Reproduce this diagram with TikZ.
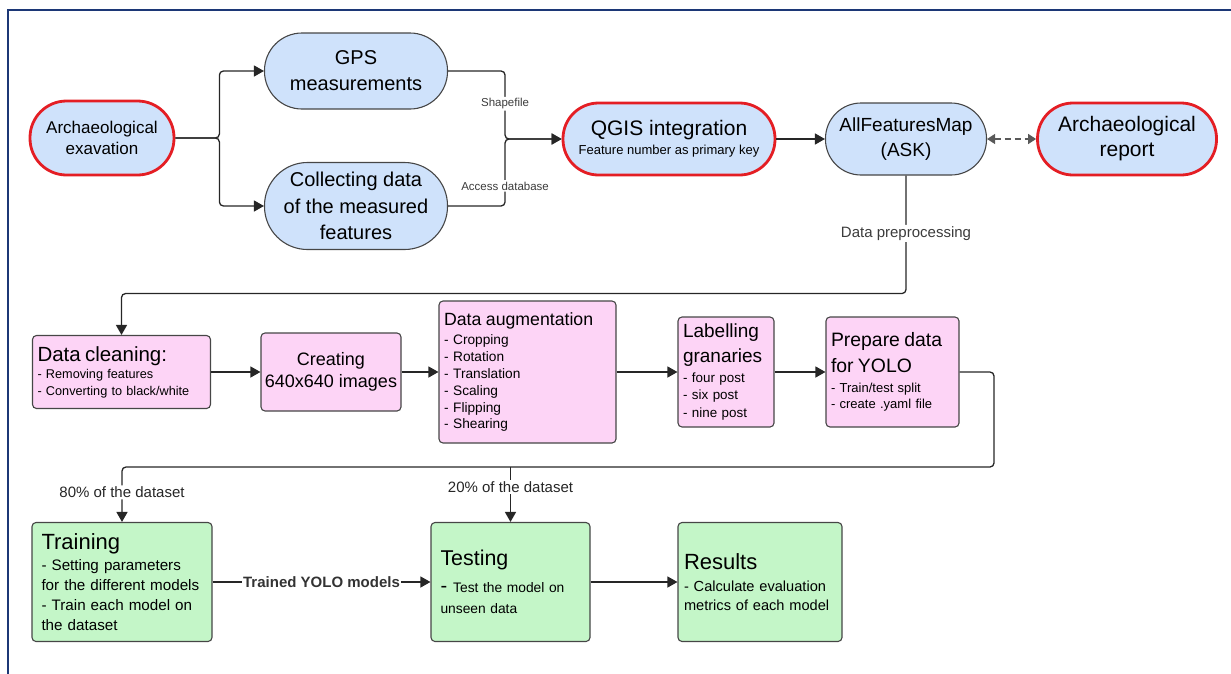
\documentclass[tikz,border=0pt]{standalone}
\usepackage{fontspec}
\setmainfont{Liberation Sans}
\usetikzlibrary{arrows.meta}

\definecolor{bluefill}{RGB}{207,226,251}
\definecolor{pinkfill}{RGB}{253,212,246}
\definecolor{greenfill}{RGB}{196,246,200}
\definecolor{redline}{RGB}{228,30,36}
\definecolor{boxline}{RGB}{70,70,70}
\definecolor{framecol}{RGB}{28,55,118}
\definecolor{lbltext}{RGB}{60,60,60}

\newcommand{\fsz}[2]{\fontsize{#1}{#2}\selectfont}
\newcommand{\boxtitle}[2]{{\fontsize{#1}{#1}\selectfont #2}}
\lineskiplimit=-100pt

\tikzset{
    stad/.style 2 args={draw=boxline, line width=1.1, fill=bluefill, align=center,
        minimum width=#1, minimum height=#2, rounded corners=#2/2-0.5, inner sep=2},
    redstad/.style 2 args={stad={#1}{#2}, draw=redline, line width=2.8},
    pinkbox/.style={draw=boxline, line width=1.1, fill=pinkfill, rounded corners=4,
        align=left, inner xsep=5, inner ysep=2},
    greenbox/.style={pinkbox, fill=greenfill, inner xsep=9.5},
    arr/.style={draw=black!85, line width=1.3, -{Triangle[length=10pt,width=11pt]}},
    dasharr/.style={draw=black!65, line width=1.3, dash pattern=on 6pt off 4pt,
        {Triangle[length=8pt,width=10pt]}-{Triangle[length=8pt,width=10pt]}},
    lbl/.style={fill=white, inner sep=1.5, text=lbltext}
}

\begin{document}
\begin{tikzpicture}[x=1pt,y=-1pt]
    \useasboundingbox (0,0) rectangle (1231,673);
    \draw[framecol, line width=2.2] (8,680) -- (8,10) -- (1240,10);

    % top row
    \node[redstad={144}{74}, font=\fsz{17}{21}] (exc) at (102,138) {Archaeological\\exavation};
    \node[stad={183}{76}, font=\fsz{20}{26}] (gps) at (356,71) {GPS\\measurements};
    \node[stad={183}{87}, font=\fsz{20}{26.5}] (coll) at (356,206) {Collecting data\\of the measured\\features};
    \node[redstad={212}{72}, font=\fsz{13}{19}] (qgis) at (669,139)
        {\boxtitle{21}{QGIS integration}\\Feature number as primary key};
    \node[stad={161}{72}, font=\fsz{19}{25}] (ask) at (906,139) {AllFeaturesMap\\(ASK)};
    \node[redstad={179}{72}, font=\fsz{21}{25}] (report) at (1127,139) {Archaeological\\report};

    % preprocessing row
    \node[pinkbox, text width=168, minimum height=73, font=\fsz{12.7}{17}] (clean) at (121.5,372)
        {\boxtitle{20.5}{Data cleaning:}\\- Removing features\\- Converting to black/white};
    \node[pinkbox, align=center, inner xsep=2, minimum width=140, minimum height=78,
        font=\fsz{18}{21.7}] (create) at (331,372) {Creating\\640x640 images};
    \node[pinkbox, text width=167, minimum height=142, font=\fsz{13.7}{16.9}] (augm) at (527.5,372)
        {\boxtitle{17.7}{Data augmentation}\\[2.5pt]- Cropping\\- Rotation\\- Translation\\- Scaling\\- Flipping\\- Shearing};
    \node[pinkbox, text width=86, minimum height=110, font=\fsz{13.4}{17.3}] (label) at (726,372)
        {\boxtitle{19}{Labelling}\\[6pt]\boxtitle{19}{granaries}\\[2.7pt]- four post\\- six post\\- nine post};
    \node[pinkbox, text width=123, minimum height=110, font=\fsz{13}{16.7}] (prep) at (892.5,372)
        {\boxtitle{19.4}{Prepare data}\\[6.6pt]\boxtitle{19.4}{for YOLO}\\[3.3pt]- Train/test split\\- create .yaml file};

    % model row
    \node[greenbox, text width=161, minimum height=119, font=\fsz{15.2}{20}] (train) at (122,582)
        {\boxtitle{22}{Training}\\[1.6pt]- Setting parameters\\for the different models\\- Train each model on\\the dataset};
    \node[greenbox, text width=140, minimum height=119, font=\fsz{13.8}{21.6}] (test) at (510.5,582)
        {\boxtitle{21.4}{Testing}\\[5.1pt]\boxtitle{20}{-}\hspace{6pt}Test the model on\\unseen data};
    \node[greenbox, inner xsep=6, text width=152, minimum height=119, font=\fsz{14.6}{18.5}] (res) at (760,582)
        {\boxtitle{22}{Results}\\[3.5pt]- Calculate evaluation\\metrics of each model};

    % connectors
    \draw[arr, rounded corners=4] (exc.east) -- ++(44,0) |- (gps.west);
    \draw[arr, rounded corners=4] (exc.east) -- ++(44,0) |- (coll.west);
    \draw[arr, rounded corners=4] (gps.east) -- ++(57,0) |- node[lbl, pos=0.24, font=\fsz{11.5}{12}] {Shapefile} (qgis.west);
    \draw[arr, rounded corners=4] (coll.east) -- ++(57,0) |- node[lbl, pos=0.15, font=\fsz{11.5}{12}] {Access database} (qgis.west);
    \draw[arr] (qgis.east) -- (ask.west);
    \draw[dasharr] (ask.east) -- (report.west);
    \draw[arr, rounded corners=4] (ask.south) -- node[lbl, pos=0.49, font=\fsz{15}{16}] {Data preprocessing} ++(0,118) -| (clean.north);

    \draw[arr] (clean.east) -- (create.west);
    \draw[arr] (create.east) -- (augm.west);
    \draw[arr] (augm.east) -- (label.west);
    \draw[arr] (label.east) -- (prep.west);

    \coordinate (split) at (994,467);
    \draw[arr, rounded corners=4] (prep.east) -| (split) -| node[lbl, text=black!85, pos=0.73, font=\fsz{15}{16}] {80\% of the dataset} (train.north);
    \draw[arr] (test.north |- split) -- node[lbl, text=black!85, pos=0.36, font=\fsz{15}{16}] {20\% of the dataset} (test.north);
    \draw[arr] (train.east) -- node[lbl, text=black!80, font=\bfseries\fsz{15}{16}] {Trained YOLO models} (test.west);
    \draw[arr] (test.east) -- (res.west);
\end{tikzpicture}
\end{document}
